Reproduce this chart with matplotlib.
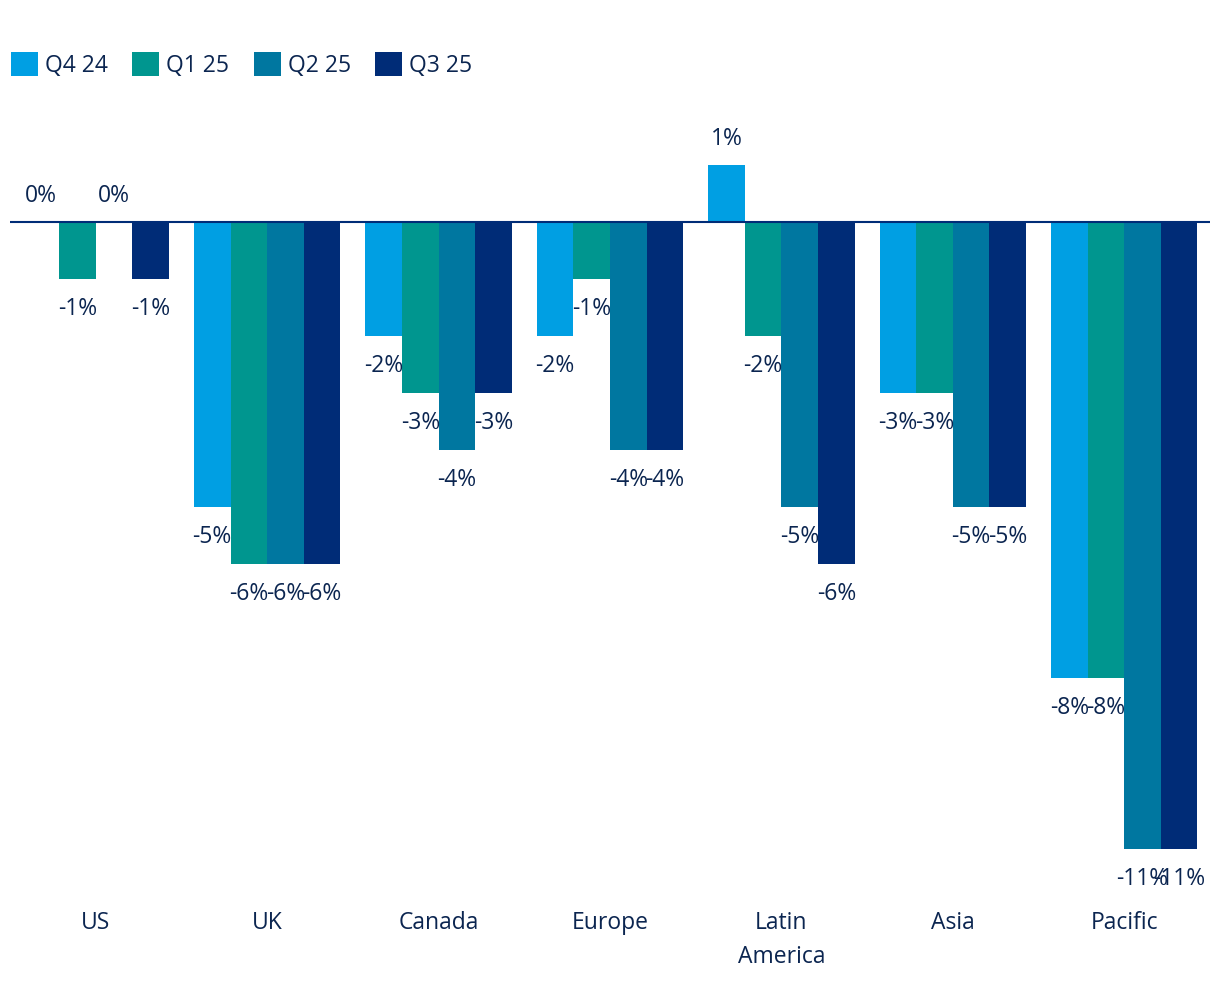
import numpy as np
import matplotlib.pyplot as plt

plt.rcParams['font.family'] = ['Open Sans', 'DejaVu Sans']

# Data
regions = ['US', 'UK', 'Canada', 'Europe', 'Latin\nAmerica', 'Asia', 'Pacific']
series = ['Q4 24', 'Q1 25', 'Q2 25', 'Q3 25']
q4_24 = [0, -5, -2, -2, 1, -3, -8]
q1_25 = [-1, -6, -3, -1, -2, -3, -8]
q2_25 = [0, -6, -4, -4, -5, -5, -11]
q3_25 = [-1, -6, -3, -4, -6, -5, -11]

colors = ['#009FE3', '#00968F', '#0077A0', '#002C77']
text_color = '#0B2550'
fs = 16.5

fig = plt.figure(figsize=(12.2, 9.92), dpi=100)
ax = fig.add_axes([10 / 1220, 0.0982, 1200 / 1220, 0.7929])

x = np.arange(len(regions))
w = 0.2135
values = [q4_24, q1_25, q2_25, q3_25]
for i, (name, vals) in enumerate(zip(series, values)):
    pos = x + (i - 1.5) * w
    ax.bar(pos, vals, width=w, color=colors[i], label=name, zorder=2)
    for px, v in zip(pos, vals):
        off = 19 if v >= 0 else -21.6
        ax.annotate(f'{v}%', (px, v), xytext=(0, off), textcoords='offset points',
                    ha='center', va='center', fontsize=fs, color=text_color)

ax.axhline(0, color='#002C77', linewidth=1.5, zorder=3)
ax.set_xlim(-0.5, 6.5)
ax.set_ylim(-11.8, 2.0)
ax.set_xticks(x)
ax.set_xticklabels(regions, fontsize=fs, color=text_color, linespacing=1.55, va='top')
ax.tick_params(axis='x', length=0, pad=12)
ax.set_yticks([])
for s in ax.spines.values():
    s.set_visible(False)

fig.legend(loc='upper left', bbox_to_anchor=(-0.008, 0.968), ncol=4, frameon=False,
           fontsize=fs, handlelength=1.18, handleheight=1.18, handletextpad=0.3,
           columnspacing=1.07, labelcolor=text_color, borderaxespad=0.5)

fig.savefig('out.png', dpi=100)
